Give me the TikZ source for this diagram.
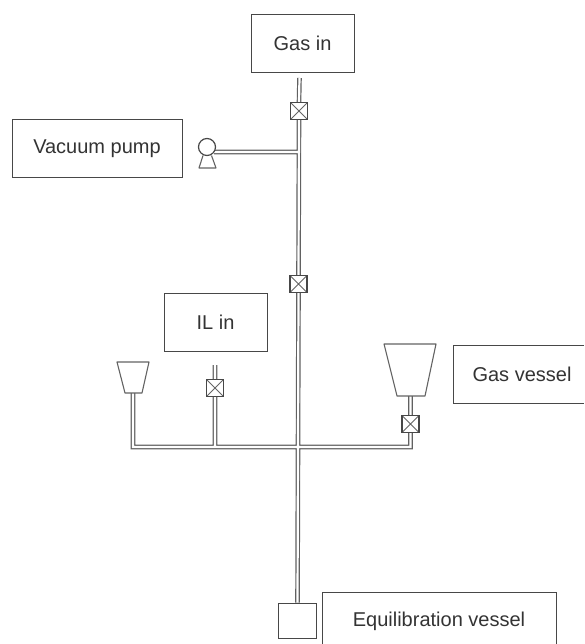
\documentclass[tikz,border=0pt]{standalone}
\usepackage{fontspec}
\setmainfont{Liberation Sans}
\definecolor{ink}{gray}{0.28}
\definecolor{pipec}{gray}{0.38}
\tikzset{
  x=1pt,y=-1pt,
  labeltext/.style={text=black!80,font=\fontsize{20}{24}\selectfont},
  labelbox/.style={draw=ink,line width=1pt,rectangle,inner sep=0pt},
  valve/.style={draw=ink,line width=1.2pt,rectangle,minimum size=17pt,inner sep=0pt,fill=white,path picture={
    \draw[black!60,line width=1pt] (path picture bounding box.north west)--(path picture bounding box.south east)
      (path picture bounding box.north east)--(path picture bounding box.south west);}},
  pipeout/.style={draw=pipec,line width=4.6pt},
  pipein/.style={draw=white,line width=2.2pt},
  vesselline/.style={draw=ink!85,line width=1.1pt,line join=round},
  pt/.style={inner sep=0pt,minimum size=0pt},
}
\newcommand{\pipenet}{(in1) -- (v1.north)
  (in3) -- (v3.north)
  (v3.south) -- (jil)
  (pumpout) -- (j1)
  (fl) -- (jl) -- (j2)
  (fr) -- (v4.north)
  (v4.south) -- (jr) -- (j2)
  (v1.south) -- (v2.north)
  (v2.south) -- (eqv.north)}
\begin{document}
\begin{tikzpicture}
\useasboundingbox (0,0) rectangle (584,644);
\node[labelbox,labeltext,minimum width=103pt,minimum height=58pt] (gasin) at (302.5,43.5) {Gas in};
\node[labelbox,labeltext,minimum width=170pt,minimum height=58pt] (pump) at (97,149) {Vacuum pump};
\node[labelbox,labeltext,minimum width=103pt,minimum height=58pt] (ilin) at (215.5,322) {IL in};
\draw[draw=ink,line width=1pt] (584,345) -- (453,345) -- (453,403) -- (584,403);
\node[pt,labeltext] (gasvt) at (522,374) {Gas vessel};
\node[draw=ink,line width=1pt,rectangle,minimum width=38pt,minimum height=35pt,inner sep=0pt] (eqv) at (297.5,620.5) {};
\draw[draw=ink,line width=1pt] (322,644) -- (322,592) -- (556,592) -- (556,644);
\node[pt,labeltext] (eqt) at (439,621) {Equilibration vessel};
\node[valve] (v1) at (299,111) {};
\node[valve] (v2) at (298.5,284) {};
\node[valve] (v3) at (215,388) {};
\node[valve] (v4) at (410.5,424) {};
\coordinate (in1) at (299.5,78);
\coordinate (in3) at (215,365);
\coordinate (j1) at (299,152);
\coordinate (j2) at (299,447);
\coordinate (jl) at (133,447);
\coordinate (jr) at (410.5,447);
\coordinate (jil) at (215,447);
\coordinate (pumpout) at (214,152);
\coordinate (fl) at (133,393);
\coordinate (fr) at (410.5,396);
\draw[pipeout] \pipenet;
\draw[pipein] \pipenet;
\node[draw=ink,line width=1.2pt,circle,minimum size=17pt,inner sep=0pt,fill=white] (pc) at (207,147) {};
\draw[vesselline] (203,155.5) -- (199,168) -- (216,168) -- (211.5,155.5);
\draw[vesselline] (117,362) -- (149,362) -- (142,393) -- (125,393) -- cycle;
\draw[vesselline] (384,344) -- (436,344) -- (425,396) -- (397,396) -- cycle;
\end{tikzpicture}
\end{document}
